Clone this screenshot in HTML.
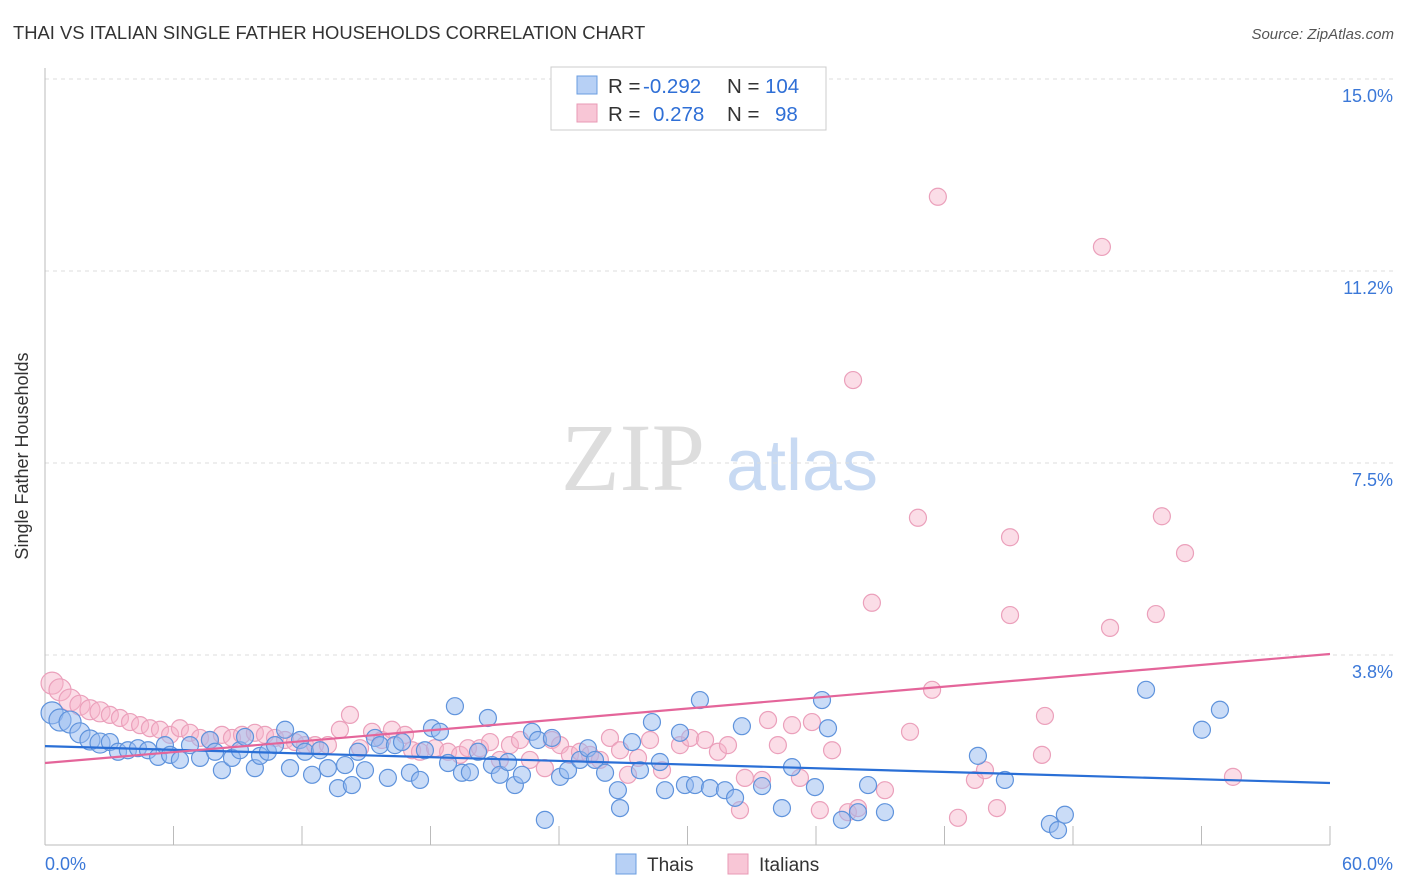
<!DOCTYPE html>
<html><head><meta charset="utf-8"><style>
body{margin:0;background:#fff;font-family:"Liberation Sans",sans-serif}
svg{display:block}
</style></head><body>
<svg id="c" width="1406" height="892">
<text x="13" y="39" font-size="18.4" fill="#333">THAI VS ITALIAN SINGLE FATHER HOUSEHOLDS CORRELATION CHART</text>
<text x="1394" y="39" font-size="15" fill="#555" font-style="italic" text-anchor="end">Source: ZipAtlas.com</text>
<text x="28" y="456" font-size="18" fill="#333" transform="rotate(-90 28 456)" text-anchor="middle">Single Father Households</text>
<g>
<text x="633" y="490" font-size="96" fill="#ddd" font-family="Liberation Serif,serif" text-anchor="middle">ZIP</text>
<text x="802" y="490" font-size="72" fill="#c8daf3" text-anchor="middle">atlas</text>
</g>
<g id="grid"></g><g id="axes"></g><g id="pts"></g><g id="lines"></g>
<g>
<rect x="551" y="67" width="275" height="63" fill="#fff" stroke="#ccc"/>
<rect x="577" y="76" width="20" height="18" fill="#b7d0f5" stroke="#6a9de0"/>
<rect x="577" y="104" width="20" height="18" fill="#f8c6d6" stroke="#e89ab5"/>
<text y="93" font-size="20.5" fill="#333"><tspan x="608">R =</tspan><tspan x="643" fill="#2f6fd6">-0.292</tspan><tspan x="727">N =</tspan><tspan x="765" fill="#2f6fd6">104</tspan></text>
<text y="121" font-size="20.5" fill="#333"><tspan x="608">R =</tspan><tspan x="653" fill="#2f6fd6">0.278</tspan><tspan x="727">N =</tspan><tspan x="775" fill="#2f6fd6">98</tspan></text>
</g>
<g>
<rect x="616" y="854" width="20" height="20" fill="#b7d0f5" stroke="#6a9de0"/>
<text x="647" y="871" font-size="19" fill="#333">Thais</text>
<rect x="728" y="854" width="20" height="20" fill="#f8c6d6" stroke="#e89ab5"/>
<text x="759" y="871" font-size="19" fill="#333">Italians</text>
</g>
</svg>
<script>
const yTicks=[3.75,7.5,11.25,15];
const yTickLabels=["3.8%","7.5%","11.2%","15.0%"];
const xTicks=[0,6,12,18,24,30,36,42,48,54,60];
const thaiX=[0.33,0.70,1.17,1.63,2.10,2.57,3.03,3.41,3.87,4.34,4.81,5.28,5.60,5.84,6.30,6.77,7.24,7.70,7.94,8.26,8.73,9.10,9.34,9.80,10.04,10.41,10.74,11.21,11.44,11.91,12.14,12.47,12.84,13.21,13.68,14.01,14.33,14.61,14.94,15.41,15.64,16.01,16.34,16.67,17.04,17.51,17.74,18.07,18.44,18.82,19.14,19.47,19.84,20.22,20.68,20.87,21.24,21.62,21.94,22.27,22.74,23.02,23.34,23.67,24.05,24.42,24.98,25.35,25.68,26.15,26.75,26.85,27.41,27.78,28.34,28.71,28.95,29.65,29.88,30.35,30.58,31.05,31.75,32.22,32.54,33.48,34.41,34.88,35.95,36.28,36.56,37.21,37.96,38.43,39.22,43.56,44.82,46.92,47.30,47.62,51.41,54.02,54.86];
const thaiY=[2.62,2.48,2.44,2.23,2.09,2.03,2.05,1.86,1.89,1.93,1.89,1.76,1.99,1.80,1.70,1.99,1.74,2.09,1.86,1.50,1.74,1.89,2.15,1.54,1.78,1.86,1.99,2.29,1.54,2.09,1.86,1.41,1.89,1.54,1.15,1.60,1.21,1.86,1.50,2.13,1.99,1.35,1.99,2.05,1.45,1.31,1.89,2.32,2.25,1.64,2.75,1.45,1.46,1.86,2.52,1.60,1.41,1.66,1.21,1.41,2.25,2.09,0.53,2.13,1.37,1.50,1.70,1.93,1.70,1.45,1.11,0.76,2.05,1.50,2.44,1.66,1.11,2.23,1.21,1.21,2.87,1.15,1.11,0.96,2.36,1.19,0.76,1.56,1.17,2.87,2.32,0.53,0.68,1.21,0.68,1.78,1.31,0.45,0.33,0.63,3.07,2.29,2.68];
const itaX=[0.33,0.70,1.17,1.63,2.10,2.57,3.03,3.50,3.97,4.44,4.90,5.37,5.84,6.30,6.77,7.24,7.70,8.26,8.73,9.20,9.80,10.27,10.74,11.21,11.67,12.14,12.61,13.21,13.77,14.24,14.71,15.27,15.73,16.20,16.81,17.14,17.51,18.21,18.82,19.38,19.75,20.31,20.78,21.24,21.71,22.18,22.64,23.34,23.67,24.05,24.51,24.98,25.45,25.91,26.38,26.85,27.22,27.69,28.25,28.81,29.65,30.12,30.82,31.42,31.89,32.68,32.45,33.48,33.76,34.22,34.88,35.25,35.81,36.18,36.75,37.49,37.73,37.96,38.61,39.22,40.39,40.76,41.42,41.69,42.63,43.42,43.89,44.45,45.06,45.06,46.69,46.55,49.35,49.73,51.87,52.15,53.23,55.47];
const itaY=[3.20,3.07,2.87,2.77,2.68,2.64,2.58,2.52,2.44,2.38,2.32,2.29,2.19,2.32,2.23,2.13,2.09,2.19,2.13,2.19,2.23,2.19,2.13,2.09,2.05,1.99,1.99,1.99,2.29,2.58,1.93,2.25,2.09,2.29,2.19,1.89,1.86,1.93,1.86,1.80,1.93,1.93,2.05,1.70,1.99,2.09,1.70,1.54,2.09,1.99,1.80,1.86,1.80,1.70,2.13,1.89,1.41,1.74,2.09,1.50,1.99,2.13,2.09,1.86,1.99,1.35,0.72,1.31,2.48,1.99,2.38,1.35,2.44,0.72,1.89,0.68,9.12,0.76,4.77,1.11,2.25,6.43,3.07,12.70,0.57,1.31,1.50,0.76,6.05,4.53,2.56,1.80,11.72,4.28,4.55,6.46,5.74,1.37];
const thaiTrend=[1.97,1.25];
const itaTrend=[1.64,3.77];
const X=v=>45+v/60*1285, Y=v=>847-v*51.2;
const NS="http://www.w3.org/2000/svg";
function mk(tag,attrs,parent){const e=document.createElementNS(NS,tag);for(const k in attrs)e.setAttribute(k,attrs[k]);parent.appendChild(e);return e;}
const gridG=document.getElementById('grid'),axesG=document.getElementById('axes'),ptsG=document.getElementById('pts'),linesG=document.getElementById('lines');
yTicks.forEach((t,i)=>{
 const l=mk('line',{x1:45,x2:1395,y1:Y(t),y2:Y(t),stroke:'#ddd','stroke-dasharray':'4,4'},gridG);
 
 
 const tx=mk('text',{x:1393,y:Y(t)+23,'font-size':18,fill:'#3b78d8','text-anchor':'end'},axesG);
 tx.textContent=yTickLabels[i];
 
 
});
const ya=mk('line',{x1:45,x2:45,y1:68,y2:845,stroke:'#bbb'},axesG);


const xa=mk('line',{x1:45,x2:1330,y1:845,y2:845,stroke:'#bbb'},axesG);


xTicks.forEach(t=>{
 const l=mk('line',{x1:X(t),x2:X(t),y1:826,y2:845,stroke:'#bbb'},axesG);
 
 
});
const xl0=mk('text',{x:45,y:870,'font-size':18,fill:'#3b78d8'},axesG);xl0.textContent='0.0%';


const xl1=mk('text',{x:1393,y:870,'font-size':18,fill:'#3b78d8','text-anchor':'end'},axesG);xl1.textContent='60.0%';


function dots(xs,ys,fill,stroke,name){xs.forEach((x,i)=>{
 const r=x<1.5?11:(x<3?10:8.5);
 const c=mk('circle',{cx:X(x),cy:Y(ys[i]),r:r,fill:fill,stroke:stroke,'stroke-width':1.2},ptsG);
 
 
});}
dots(itaX,itaY,'rgba(246,180,202,0.45)','#eba0bb','italian-point');
dots(thaiX,thaiY,'rgba(150,185,240,0.5)','#5f93dc','thai-point');
const bl=mk('line',{x1:X(0),y1:Y(thaiTrend[0]),x2:X(60),y2:Y(thaiTrend[1]),stroke:'#2a6fd6','stroke-width':2.2},linesG);


const pl=mk('line',{x1:X(0),y1:Y(itaTrend[0]),x2:X(60),y2:Y(itaTrend[1]),stroke:'#e4659a','stroke-width':2.2},linesG);


</script>
</body></html>
